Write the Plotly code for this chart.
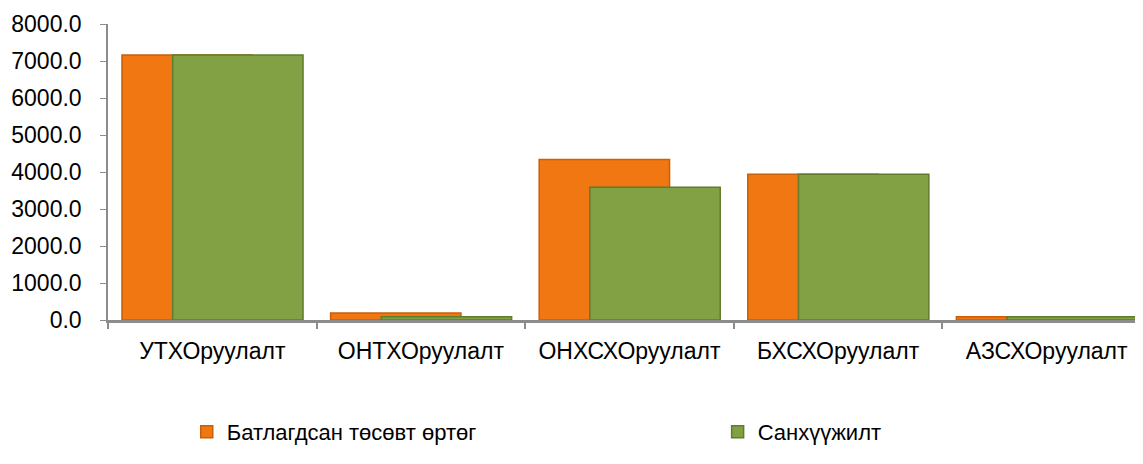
import plotly.graph_objects as go

categories = ["УТХОруулалт", "ОНТХОруулалт", "ОНХСХОруулалт", "БХСХОруулалт", "АЗСХОруулалт"]
approved_cost = [7160.0, 190.0, 4340.0, 3940.0, 90.0]
financing = [7160.0, 90.0, 3590.0, 3940.0, 85.0]
series_names = ["Батлагдсан төсөвт өртөг", "Санхүүжилт"]
y_ticks = [0, 1000, 2000, 3000, 4000, 5000, 6000, 7000, 8000]

FONT = "Liberation Sans, Arial, sans-serif"

fig = go.Figure()
fig.add_trace(go.Bar(
    x=categories, y=approved_cost, name=series_names[0],
    offset=-0.433, width=0.625, legend="legend",
    marker=dict(color="#F07712", line=dict(color="#C95F08", width=1.5)),
))
fig.add_trace(go.Bar(
    x=categories, y=financing, name=series_names[1],
    offset=-0.19, width=0.625, legend="legend2",
    marker=dict(color="#82A044", line=dict(color="#5F7D2C", width=1.5)),
))

legend_common = dict(
    orientation="h", yanchor="middle", y=-0.378, xanchor="left",
    font=dict(size=22, family=FONT, color="#000000"), itemwidth=30,
    bgcolor="rgba(0,0,0,0)",
)

fig.update_layout(
    width=1143, height=464,
    barmode="overlay",
    paper_bgcolor="white", plot_bgcolor="white",
    margin=dict(l=100, r=0, t=16, b=152, autoexpand=False),
    font=dict(family=FONT, size=22, color="#000000"),
    showlegend=True,
    legend=dict(x=0.0755, **legend_common),
    legend2=dict(x=0.5845, **legend_common),
    xaxis=dict(
        type="category", range=[-0.5, 4.5], automargin=False,
        showline=True, linecolor="#8C8C8C", linewidth=3,
        ticks="outside", tickson="boundaries", ticklen=6, tickwidth=2, tickcolor="#8C8C8C",
        showgrid=False, tickfont=dict(size=23, family=FONT, color="#000000"),
        ticklabelstandoff=8,
    ),
    yaxis=dict(
        range=[0, 8000], tickvals=y_ticks, tickformat=".1f", automargin=False,
        showline=True, linecolor="#8C8C8C", linewidth=1.5,
        ticks="outside", ticklen=6, tickwidth=1, tickcolor="#8C8C8C",
        showgrid=False, zeroline=False,
        tickfont=dict(size=23, family=FONT, color="#000000"),
        ticklabelstandoff=14,
    ),
)

fig.write_html("out.html")
